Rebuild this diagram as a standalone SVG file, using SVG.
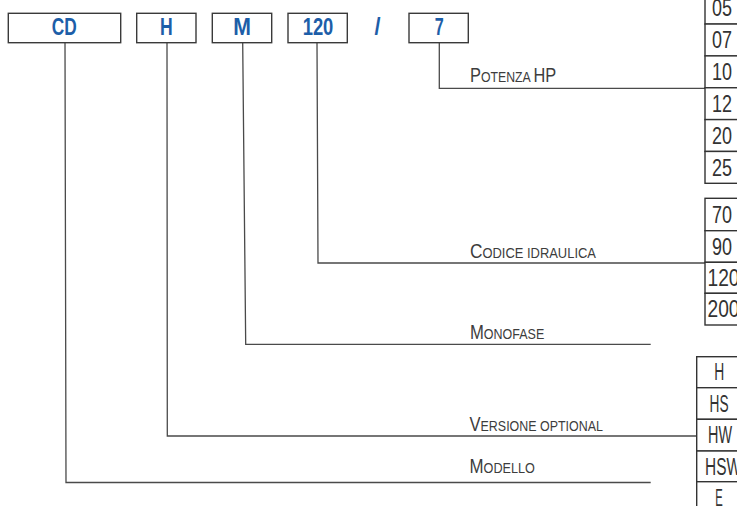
<svg xmlns="http://www.w3.org/2000/svg" width="737" height="506" viewBox="0 0 737 506">
<style>
.box{fill:#fff;stroke:#3a3a3a;stroke-width:1.4}
.code{font-family:"Liberation Sans",Arial,sans-serif;font-weight:bold;font-size:23px;fill:#1d5ea8;text-anchor:middle}
.lbl{font-family:"Liberation Sans",Arial,sans-serif;fill:#3d3d3d}
.big{font-size:20px}
.sm{font-size:15px}
.cell{fill:#fff;stroke:#333;stroke-width:1.4}
.num{font-family:"Liberation Sans",Arial,sans-serif;font-size:23px;fill:#333;text-anchor:middle}
.conn{fill:none;stroke:#4a4a4a;stroke-width:1.3}
</style>
<rect width="737" height="506" fill="#fff"/>
<g id="connectors">
<path class="conn" d="M65 42.7 L66 482.5 H650.7"/>
<path class="conn" d="M167 42.7 L167.3 436 H696.7"/>
<path class="conn" d="M242.7 42.7 L245.7 344.3 H650.7"/>
<path class="conn" d="M317 42.7 L318 263 H705"/>
<path class="conn" d="M439.3 42.7 V88.3 H705"/>
</g>
<g id="node-cd"><rect class="box" x="8.3" y="13.3" width="112.4" height="29.4"/><text class="code" x="64.2" y="35" textLength="25" lengthAdjust="spacingAndGlyphs">CD</text></g>
<g id="node-h"><rect class="box" x="136.7" y="13.3" width="59.3" height="29.4"/><text class="code" x="166.3" y="35" textLength="12.7" lengthAdjust="spacingAndGlyphs">H</text></g>
<g id="node-m"><rect class="box" x="212.3" y="13.3" width="59.4" height="29.4"/><text class="code" x="242" y="35" textLength="17.7" lengthAdjust="spacingAndGlyphs">M</text></g>
<g id="node-120"><rect class="box" x="288" y="13.3" width="59.3" height="29.4"/><text class="code" x="318" y="35" textLength="30.7" lengthAdjust="spacingAndGlyphs">120</text></g>
<g id="node-slash"><text class="code" x="377.5" y="35" textLength="6" lengthAdjust="spacingAndGlyphs">/</text></g>
<g id="node-7"><rect class="box" x="409" y="13.3" width="59.3" height="29.4"/><text class="code" x="439.3" y="35" textLength="9" lengthAdjust="spacingAndGlyphs">7</text></g>
<g id="label-potenza"><text class="lbl" transform="translate(470 82) scale(0.82 1)"><tspan class="big">P</tspan><tspan class="sm">OTENZA </tspan><tspan class="big">HP</tspan></text></g>
<g id="label-codice"><text class="lbl" transform="translate(470 258.3) scale(0.862 1)"><tspan class="big">C</tspan><tspan class="sm">ODICE IDRAULICA</tspan></text></g>
<g id="label-monofase"><text class="lbl" transform="translate(470 338.5) scale(0.833 1)"><tspan class="big">M</tspan><tspan class="sm">ONOFASE</tspan></text></g>
<g id="label-versione"><text class="lbl" transform="translate(469.5 430.7) scale(0.83 1)"><tspan class="big">V</tspan><tspan class="sm">ERSIONE OPTIONAL</tspan></text></g>
<g id="label-modello"><text class="lbl" transform="translate(469.5 472.8) scale(0.844 1)"><tspan class="big">M</tspan><tspan class="sm">ODELLO</tspan></text></g>
<g id="table-potenza">
<rect class="cell" x="705" y="-7.8" width="60" height="31.85"/>
<rect class="cell" x="705" y="24.05" width="60" height="31.85"/>
<rect class="cell" x="705" y="55.9" width="60" height="31.85"/>
<rect class="cell" x="705" y="87.75" width="60" height="31.85"/>
<rect class="cell" x="705" y="119.6" width="60" height="31.85"/>
<rect class="cell" x="705" y="151.45" width="60" height="31.85"/>
<text class="num" x="722" y="16.3" textLength="20" lengthAdjust="spacingAndGlyphs">05</text>
<text class="num" x="722" y="48.2" textLength="20" lengthAdjust="spacingAndGlyphs">07</text>
<text class="num" x="722" y="80" textLength="20" lengthAdjust="spacingAndGlyphs">10</text>
<text class="num" x="722" y="111.9" textLength="20" lengthAdjust="spacingAndGlyphs">12</text>
<text class="num" x="722" y="143.7" textLength="20" lengthAdjust="spacingAndGlyphs">20</text>
<text class="num" x="722" y="175.6" textLength="20" lengthAdjust="spacingAndGlyphs">25</text>
</g>
<g id="table-codice">
<rect class="cell" x="705" y="198.3" width="60" height="32.4"/>
<rect class="cell" x="705" y="230.7" width="60" height="31.6"/>
<rect class="cell" x="705" y="262.3" width="60" height="31"/>
<rect class="cell" x="705" y="293.3" width="60" height="31.7"/>
<text class="num" x="722" y="222.7" textLength="20" lengthAdjust="spacingAndGlyphs">70</text>
<text class="num" x="722" y="254.7" textLength="20" lengthAdjust="spacingAndGlyphs">90</text>
<text class="num" x="723.5" y="286.2" textLength="32" lengthAdjust="spacingAndGlyphs">120</text>
<text class="num" x="723.5" y="317.4" textLength="32" lengthAdjust="spacingAndGlyphs">200</text>
</g>
<g id="table-versione">
<rect class="cell" x="696.7" y="356.7" width="70" height="31"/>
<rect class="cell" x="696.7" y="387.7" width="70" height="31.6"/>
<rect class="cell" x="696.7" y="419.3" width="70" height="31.7"/>
<rect class="cell" x="696.7" y="451" width="70" height="30.7"/>
<rect class="cell" x="696.7" y="481.7" width="70" height="31.3"/>
<text class="num" x="719.3" y="380.2" textLength="10" lengthAdjust="spacingAndGlyphs">H</text>
<text class="num" x="719" y="411.7" textLength="19" lengthAdjust="spacingAndGlyphs">HS</text>
<text class="num" x="720" y="443.2" textLength="24" lengthAdjust="spacingAndGlyphs">HW</text>
<text class="num" x="723" y="474.7" textLength="36" lengthAdjust="spacingAndGlyphs">HSW</text>
<text class="num" x="719" y="505.7" textLength="7.5" lengthAdjust="spacingAndGlyphs">E</text>
</g>
</svg>
